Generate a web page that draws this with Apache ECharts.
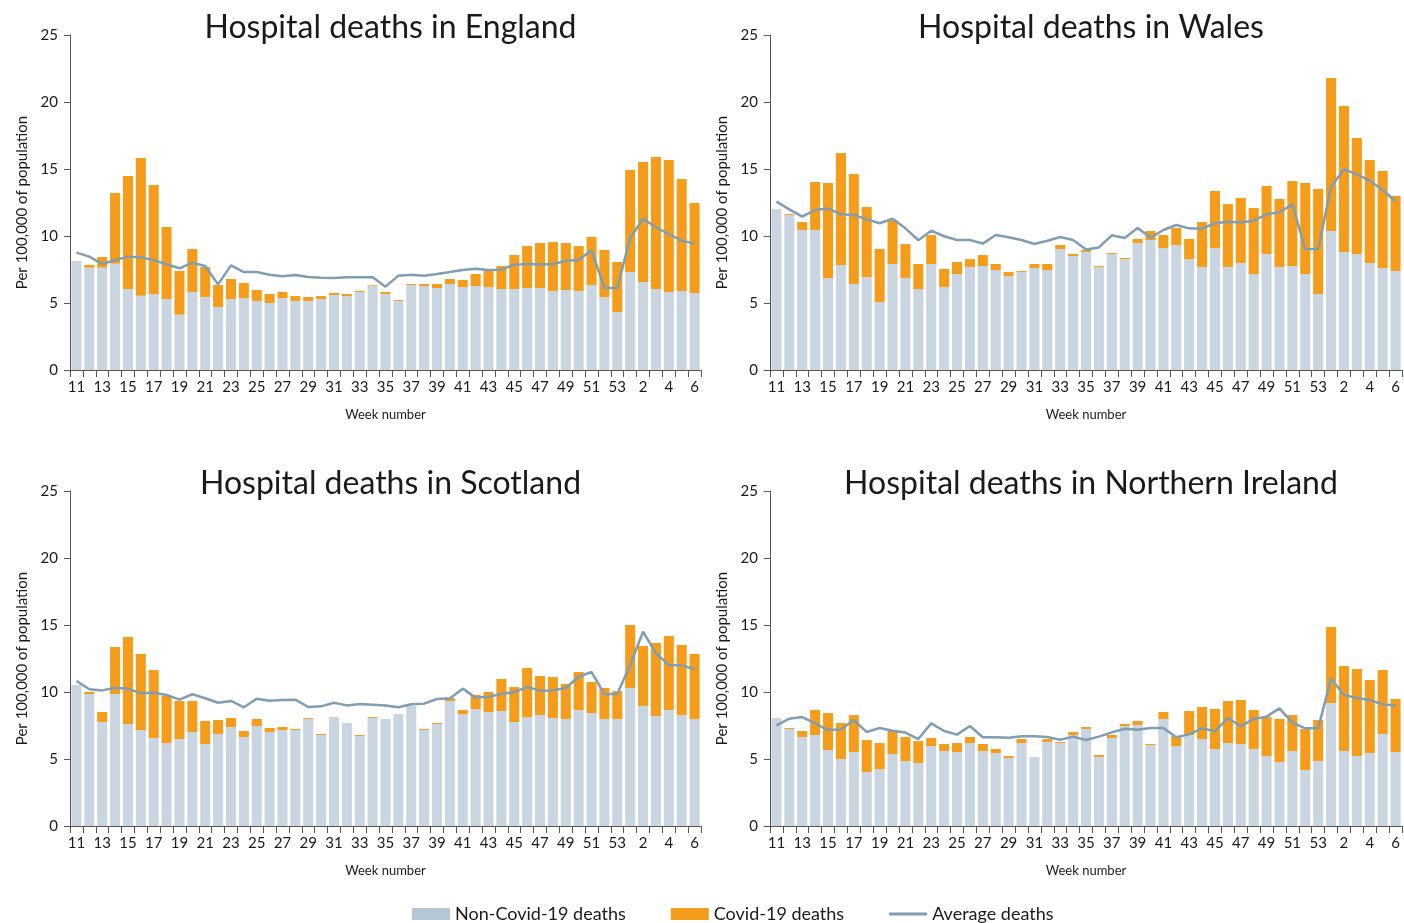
<!DOCTYPE html>
<html><head><meta charset="utf-8">
<script src="https://cdn.jsdelivr.net/npm/echarts@6/dist/echarts.min.js"></script>
<style>html,body{margin:0;padding:0;background:#fff}#c{width:1404px;height:923px}</style>
</head><body><div id="c"></div>
<script>
const weeks = ['11','12','13','14','15','16','17','18','19','20','21','22','23','24','25','26','27','28','29','30','31','32','33','34','35','36','37','38','39','40','41','42','43','44','45','46','47','48','49','50','51','52','53','1','2','3','4','5','6'];
const yTicks = [0, 5, 10, 15, 20, 25];

const englandNonCovid = [8.13,7.64,7.64,7.94,6.04,5.55,5.67,5.30,4.13,5.82,5.45,4.70,5.30,5.37,5.15,5.00,5.37,5.15,5.15,5.30,5.60,5.52,5.82,6.27,5.67,5.15,6.34,6.27,6.12,6.42,6.19,6.27,6.19,6.04,6.04,6.12,6.12,5.90,5.97,5.90,6.34,5.45,4.33,7.31,6.57,6.04,5.82,5.90,5.75];
const englandCovid = [0,0.20,0.79,5.27,8.44,10.27,8.14,5.37,3.26,3.21,2.24,1.64,1.49,1.12,0.82,0.67,0.45,0.37,0.30,0.22,0.15,0.15,0.08,0.05,0.15,0.07,0.08,0.15,0.30,0.37,0.53,0.89,1.27,1.72,2.54,3.13,3.36,3.65,3.51,3.35,3.59,3.51,3.73,7.62,8.95,9.86,9.85,8.35,6.71];
const englandAverage = [8.76,8.46,7.91,8.20,8.46,8.41,8.20,7.89,7.59,8.01,7.76,6.39,7.81,7.31,7.31,7.11,6.99,7.09,6.94,6.89,6.87,6.92,6.92,6.92,6.22,7.04,7.11,7.04,7.16,7.31,7.46,7.56,7.46,7.49,7.86,7.91,7.89,7.89,8.16,8.21,8.93,6.12,6.12,9.85,11.29,10.65,10.15,9.65,9.43];

const walesNonCovid = [12.01,11.57,10.45,10.45,6.87,7.84,6.42,6.94,5.07,7.91,6.87,6.04,7.91,6.19,7.16,7.69,7.76,7.46,7.01,7.31,7.61,7.46,9.03,8.51,8.81,7.69,8.66,8.28,9.48,9.70,9.10,9.33,8.28,7.69,9.10,7.69,7.99,7.16,8.66,7.69,7.76,7.16,5.67,10.37,8.81,8.66,7.99,7.61,7.39];
const walesCovid = [0,0.07,0.59,3.58,7.09,8.35,8.21,5.22,3.96,3.28,2.53,1.87,2.16,1.35,0.90,0.59,0.82,0.45,0.30,0.08,0.30,0.45,0.30,0.15,0.15,0.07,0.07,0.08,0.30,0.67,0.97,1.27,1.50,3.35,4.26,4.70,4.85,4.93,5.07,5.07,6.34,6.80,7.84,11.42,10.89,8.65,7.68,7.24,5.60];
const walesAverage = [12.56,11.99,11.44,11.94,12.06,11.62,11.57,11.24,10.95,11.29,10.57,9.68,10.40,9.98,9.70,9.70,9.43,10.07,9.90,9.70,9.40,9.65,9.93,9.70,9.00,9.15,10.05,9.85,10.60,9.88,10.45,10.82,10.57,10.55,10.95,11.07,11.00,11.14,11.62,11.77,12.36,9.03,9.03,13.66,14.98,14.60,14.13,13.43,12.59];

const scotlandNonCovid = [10.52,9.85,7.76,9.85,7.61,7.16,6.57,6.19,6.49,7.01,6.12,6.87,7.39,6.64,7.46,7.01,7.16,7.16,7.99,6.79,8.13,7.69,6.72,8.06,7.99,8.36,8.96,7.16,7.61,9.33,8.36,8.73,8.51,8.58,7.76,8.13,8.28,8.06,7.99,8.66,8.43,7.99,7.99,10.30,8.96,8.21,8.66,8.28,7.99];
const scotlandCovid = [0,0.15,0.75,3.51,6.49,5.68,5.07,3.51,2.84,2.32,1.72,1.04,0.67,0.45,0.53,0.30,0.23,0.08,0.07,0.08,0,0,0.07,0.07,0,0,0,0.08,0.08,0.22,0.30,1.05,1.49,2.39,2.61,3.66,2.91,3.06,2.61,2.83,2.32,2.31,2.08,4.70,4.47,5.45,5.52,5.23,4.85];
const scotlandAverage = [10.82,10.20,10.12,10.32,10.25,9.90,9.95,9.78,9.43,9.83,9.53,9.20,9.33,8.86,9.50,9.35,9.40,9.43,8.88,8.93,9.20,9.00,9.10,9.05,9.00,8.86,9.08,9.13,9.48,9.53,10.25,9.58,9.65,9.85,10.00,10.37,10.10,10.12,10.30,11.14,11.49,9.85,9.85,12.01,14.50,12.89,12.01,11.99,11.72];

const niNonCovid = [8.06,7.24,6.64,6.79,5.67,5.00,5.52,4.03,4.25,5.37,4.85,4.70,5.97,5.60,5.52,6.19,5.60,5.45,5.07,6.19,5.15,6.27,6.19,6.79,7.24,5.15,6.57,7.46,7.54,6.04,7.99,5.97,6.79,6.49,5.75,6.19,6.12,5.75,5.22,4.78,5.60,4.18,4.85,9.18,5.60,5.22,5.45,6.87,5.52];
const niCovid = [0,0.07,0.45,1.87,2.76,2.69,2.76,2.39,1.94,1.79,1.79,1.64,0.60,0.52,0.67,0.45,0.52,0.30,0.15,0.30,0,0.22,0.08,0.22,0.15,0.15,0.22,0.15,0.30,0.08,0.52,0.75,1.79,2.39,2.98,3.14,3.28,2.91,2.91,3.21,2.68,3.06,3.06,5.67,6.34,6.50,5.45,4.77,3.96];
const niAverage = [7.51,8.01,8.13,7.66,7.16,7.21,7.91,7.01,7.31,7.11,6.97,6.49,7.66,7.09,6.82,7.46,6.62,6.62,6.59,6.69,6.69,6.64,6.44,6.67,6.42,6.67,6.99,7.26,7.19,7.31,7.31,6.62,6.84,7.29,7.06,8.06,7.44,7.99,8.16,8.78,7.71,7.29,7.29,11.00,9.78,9.55,9.40,9.08,9.00];

const panels = [
  {title: 'Hospital deaths in England', nonCovid: englandNonCovid, covid: englandCovid, avg: englandAverage},
  {title: 'Hospital deaths in Wales', nonCovid: walesNonCovid, covid: walesCovid, avg: walesAverage},
  {title: 'Hospital deaths in Scotland', nonCovid: scotlandNonCovid, covid: scotlandCovid, avg: scotlandAverage},
  {title: 'Hospital deaths in Northern Ireland', nonCovid: niNonCovid, covid: niCovid, avg: niAverage}
];

const FONT = 'Lato';
const GREY = '#c9d5e0', ORANGE = '#f59c1a', LINE = '#7f9db3', AXIS = '#555555', TEXT = '#1a1a1a';
const layout = [
  {left: 70, top: 35, width: 631, height: 335},
  {left: 770, top: 35, width: 632, height: 335},
  {left: 70, top: 491, width: 631, height: 335},
  {left: 770, top: 491, width: 632, height: 335}
];

const option = {
  animation: false,
  backgroundColor: '#ffffff',
  textStyle: {fontFamily: FONT, color: TEXT},
  title: panels.map((p, i) => ({
    text: p.title,
    left: layout[i].left + layout[i].width / 2,
    textAlign: 'center',
    top: layout[i].top - 28,
    textStyle: {fontFamily: FONT, fontSize: 32, fontWeight: 'normal', color: TEXT}
  })),
  legend: {
    left: 412, top: 905, padding: 0,
    itemWidth: 38, itemHeight: 12, itemGap: 45,
    textStyle: {fontFamily: FONT, fontSize: 18, color: TEXT},
    data: [
      {name: 'Non-Covid-19 deaths', icon: 'rect', itemStyle: {color: '#b5c6d5'}},
      {name: 'Covid-19 deaths', icon: 'rect'},
      {name: 'Average deaths', icon: 'path://M0 0 H40 V3 H0 Z', itemStyle: {color: LINE}}
    ]
  },
  grid: layout.map(l => Object.assign({containLabel: false}, l)),
  xAxis: layout.map((l, i) => ({
    type: 'category', gridIndex: i, data: weeks, boundaryGap: true,
    name: 'Week number', nameLocation: 'middle', nameGap: 38,
    nameTextStyle: {fontFamily: FONT, fontSize: 13, color: TEXT},
    axisLine: {show: true, lineStyle: {color: AXIS, width: 1}},
    axisTick: {show: true, interval: 0, length: 7, lineStyle: {color: AXIS}},
    axisLabel: {interval: 1, fontFamily: FONT, fontSize: 15, color: TEXT, margin: 10},
    splitLine: {show: false}
  })),
  yAxis: layout.map((l, i) => ({
    type: 'value', gridIndex: i, min: yTicks[0], max: yTicks[yTicks.length - 1], interval: yTicks[1] - yTicks[0],
    name: 'Per 100,000 of population', nameLocation: 'middle', nameGap: 40, nameRotate: 90,
    nameTextStyle: {fontFamily: FONT, fontSize: 15, color: TEXT},
    axisLine: {show: true, lineStyle: {color: AXIS, width: 1}},
    axisTick: {show: true, length: 6, lineStyle: {color: AXIS}},
    axisLabel: {fontFamily: FONT, fontSize: 15, color: TEXT, margin: 12},
    splitLine: {show: false}
  })),
  series: []
};

panels.forEach((p, i) => {
  option.series.push({
    name: 'Non-Covid-19 deaths', type: 'bar', stack: 'total' + i,
    xAxisIndex: i, yAxisIndex: i, data: p.nonCovid, barCategoryGap: '22%',
    itemStyle: {color: GREY}
  });
  option.series.push({
    name: 'Covid-19 deaths', type: 'bar', stack: 'total' + i,
    xAxisIndex: i, yAxisIndex: i, data: p.covid, barCategoryGap: '22%',
    itemStyle: {color: ORANGE}
  });
  option.series.push({
    name: 'Average deaths', type: 'line',
    xAxisIndex: i, yAxisIndex: i, data: p.avg, symbol: 'none', smooth: false,
    lineStyle: {color: LINE, width: 2.5}, itemStyle: {color: LINE}, z: 5
  });
});

const chart = echarts.init(document.getElementById('c'), null, {renderer: 'canvas'});
chart.setOption(option);
</script>
</body></html>
